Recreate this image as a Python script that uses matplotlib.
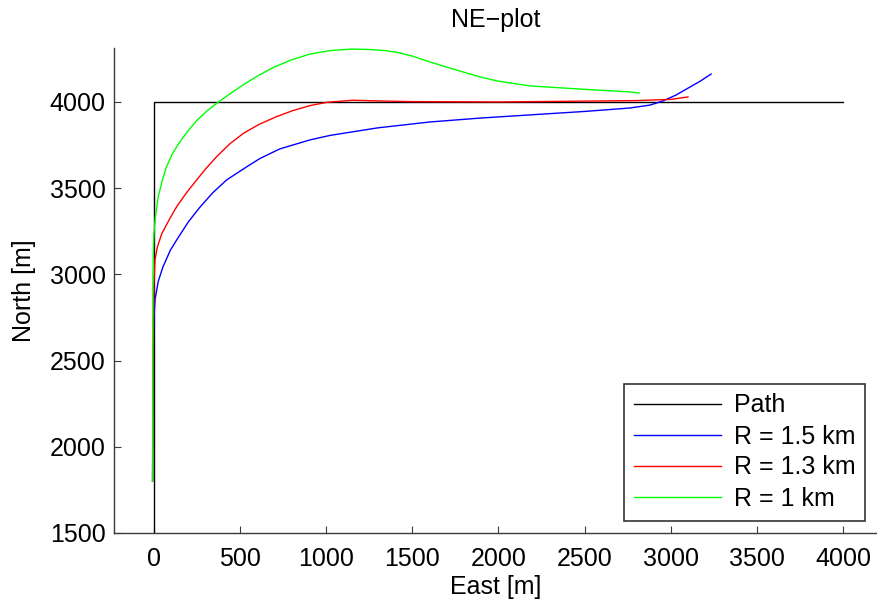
import matplotlib
matplotlib.use("Agg")
import matplotlib.pyplot as plt

plt.rcParams['font.family'] = ['Liberation Sans', 'DejaVu Sans']

path_e = [0, 0, 4000]
path_n = [0, 4000, 4000]

r15_e = [-8, -6, -3, 0, 6, 25, 52, 95, 132, 200, 267, 343, 422, 540, 615, 731, 906, 1022, 1300, 1602, 1900, 2183, 2500, 2763, 2880, 2955, 3030, 3100, 3170, 3234]
r15_n = [1800, 2300, 2600, 2750, 2852, 2960, 3043, 3140, 3200, 3305, 3390, 3475, 3548, 3625, 3672, 3728, 3780, 3806, 3850, 3884, 3907, 3925, 3945, 3965, 3982, 4006, 4040, 4080, 4120, 4162]

r13_e = [-8, -6, -3, 0, 6, 20, 45, 90, 132, 190, 248, 300, 364, 440, 519, 610, 712, 806, 906, 1004, 1155, 1300, 1500, 2000, 2500, 2800, 3000, 3100]
r13_n = [1800, 2400, 2750, 2950, 3084, 3160, 3235, 3320, 3393, 3475, 3548, 3612, 3683, 3757, 3818, 3870, 3915, 3950, 3979, 3998, 4010, 4006, 4002, 4000, 4005, 4008, 4015, 4029]

r10_e = [-8, -7, -6, -3, 0, 8, 25, 48, 73, 110, 151, 200, 248, 310, 374, 445, 519, 600, 693, 800, 906, 1022, 1155, 1254, 1340, 1411, 1500, 1602, 1700, 1794, 1890, 1991, 2183, 2473, 2763, 2816]
r10_n = [1800, 2500, 3000, 3150, 3238, 3330, 3451, 3545, 3625, 3705, 3770, 3835, 3892, 3950, 4000, 4050, 4100, 4150, 4200, 4245, 4278, 4298, 4307, 4304, 4298, 4288, 4266, 4232, 4202, 4174, 4146, 4122, 4093, 4075, 4058, 4052]

labels = ['Path', 'R = 1.5 km', 'R = 1.3 km', 'R = 1 km']
xticks = [0, 500, 1000, 1500, 2000, 2500, 3000, 3500, 4000]
yticks = [1500, 2000, 2500, 3000, 3500, 4000]

FS = 18

fig = plt.figure(figsize=(8.78, 6.08), dpi=100)
ax = fig.add_axes([114/878, (608-533)/608, (878-114)/878, (533-48)/608])

ax.plot(path_e, path_n, color='black', lw=1.0, label=labels[0])
ax.plot(r15_e, r15_n, color='#0000ff', lw=1.0, label=labels[1])
ax.plot(r13_e, r13_n, color='#ff0000', lw=1.0, label=labels[2])
ax.plot(r10_e, r10_n, color='#00ff00', lw=1.0, label=labels[3])

ax.set_xlim(-232, 4203)
ax.set_ylim(1500, 4313)
ax.set_xticks(xticks)
ax.set_yticks(yticks)
ax.tick_params(direction='in', length=5, width=0.8, labelsize=FS, colors='#3a3a3a', labelcolor='black')
ax.tick_params(axis='x', pad=10)
ax.tick_params(axis='y', pad=6)
for s in ['top', 'right']:
    ax.spines[s].set_visible(False)
for s in ['left', 'bottom']:
    ax.spines[s].set_color('#3a3a3a')
    ax.spines[s].set_linewidth(1.0)

ax.set_title('NE\u2212plot', fontsize=FS, pad=15)
ax.set_xlabel('East [m]', fontsize=FS, labelpad=3)
ax.set_ylabel('North [m]', fontsize=FS, labelpad=10)

leg = ax.legend(loc='lower right', fontsize=FS, frameon=True, fancybox=False,
                edgecolor='black', handlelength=3.5, handletextpad=0.5,
                labelspacing=0.28, borderpad=0.4, borderaxespad=0.5)
leg.get_frame().set_linewidth(1.2)

fig.savefig('out.png', dpi=100)
